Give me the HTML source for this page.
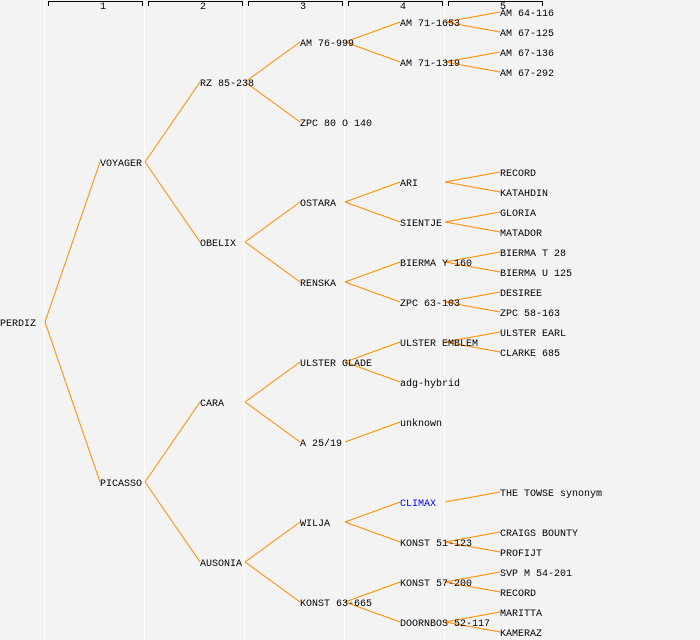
<!DOCTYPE html>
<html><head><meta charset="utf-8"><style>
html,body{margin:0;padding:0;background:#f3f3f3;}
svg{display:block}
text{font-family:"Liberation Mono","DejaVu Sans Mono",monospace;font-size:10px;fill:#000}
</style></head><body>
<svg width="700" height="640" viewBox="0 0 700 640" xmlns="http://www.w3.org/2000/svg">
<rect width="700" height="640" fill="#f3f3f3"/>
<g stroke="#fff" stroke-width="1" shape-rendering="crispEdges">
<line x1="44.5" y1="0" x2="44.5" y2="640"/>
<line x1="144.5" y1="0" x2="144.5" y2="640"/>
<line x1="244.5" y1="0" x2="244.5" y2="640"/>
<line x1="344.5" y1="0" x2="344.5" y2="640"/>
<line x1="444.5" y1="0" x2="444.5" y2="640"/>
</g>
<g stroke="#000" stroke-width="1" fill="none" shape-rendering="crispEdges">
<path d="M48.5 6V1.5H142.5V6"/>
<path d="M148.5 6V1.5H242.5V6"/>
<path d="M248.5 6V1.5H342.5V6"/>
<path d="M348.5 6V1.5H442.5V6"/>
<path d="M448.5 6V1.5H542.5V6"/>
</g>
<g style="font-size:8px">
<text x="100" y="9">1</text><text x="200" y="9">2</text><text x="300" y="9">3</text><text x="400" y="9">4</text><text x="500" y="9">5</text>
</g>
<g stroke="#ff8c00" stroke-width="1">
<line x1="45" y1="322" x2="100" y2="162"/><line x1="45" y1="322" x2="100" y2="482"/>
<line x1="145" y1="162" x2="200" y2="82"/><line x1="145" y1="162" x2="200" y2="242"/>
<line x1="145" y1="482" x2="200" y2="402"/><line x1="145" y1="482" x2="200" y2="562"/>
<line x1="245" y1="82" x2="300" y2="42"/><line x1="245" y1="82" x2="300" y2="122"/>
<line x1="245" y1="242" x2="300" y2="202"/><line x1="245" y1="242" x2="300" y2="282"/>
<line x1="245" y1="402" x2="300" y2="362"/><line x1="245" y1="402" x2="300" y2="442"/>
<line x1="245" y1="562" x2="300" y2="522"/><line x1="245" y1="562" x2="300" y2="602"/>
<line x1="345" y1="42" x2="400" y2="22"/><line x1="345" y1="42" x2="400" y2="62"/>
<line x1="345" y1="202" x2="400" y2="182"/><line x1="345" y1="202" x2="400" y2="222"/>
<line x1="345" y1="282" x2="400" y2="262"/><line x1="345" y1="282" x2="400" y2="302"/>
<line x1="345" y1="362" x2="400" y2="342"/><line x1="345" y1="362" x2="400" y2="382"/>
<line x1="345" y1="442" x2="400" y2="422"/>
<line x1="345" y1="522" x2="400" y2="502"/><line x1="345" y1="522" x2="400" y2="542"/>
<line x1="345" y1="602" x2="400" y2="582"/><line x1="345" y1="602" x2="400" y2="622"/>
<line x1="445" y1="22" x2="500" y2="12"/><line x1="445" y1="22" x2="500" y2="32"/>
<line x1="445" y1="62" x2="500" y2="52"/><line x1="445" y1="62" x2="500" y2="72"/>
<line x1="445" y1="182" x2="500" y2="172"/><line x1="445" y1="182" x2="500" y2="192"/>
<line x1="445" y1="222" x2="500" y2="212"/><line x1="445" y1="222" x2="500" y2="232"/>
<line x1="445" y1="262" x2="500" y2="252"/><line x1="445" y1="262" x2="500" y2="272"/>
<line x1="445" y1="302" x2="500" y2="292"/><line x1="445" y1="302" x2="500" y2="312"/>
<line x1="445" y1="342" x2="500" y2="332"/><line x1="445" y1="342" x2="500" y2="352"/>
<line x1="445" y1="502" x2="500" y2="492"/>
<line x1="445" y1="542" x2="500" y2="532"/><line x1="445" y1="542" x2="500" y2="552"/>
<line x1="445" y1="582" x2="500" y2="572"/><line x1="445" y1="582" x2="500" y2="592"/>
<line x1="445" y1="622" x2="500" y2="612"/><line x1="445" y1="622" x2="500" y2="632"/>
</g>
<g>
<text x="0" y="326">PERDIZ</text>
<text x="100" y="166">VOYAGER</text><text x="100" y="486">PICASSO</text>
<text x="200" y="86">RZ 85-238</text><text x="200" y="246">OBELIX</text><text x="200" y="406">CARA</text><text x="200" y="566">AUSONIA</text>
<text x="300" y="46">AM 76-999</text><text x="300" y="126">ZPC 80 O 140</text><text x="300" y="206">OSTARA</text><text x="300" y="286">RENSKA</text>
<text x="300" y="366">ULSTER GLADE</text><text x="300" y="446">A 25/19</text><text x="300" y="526">WILJA</text><text x="300" y="606">KONST 63-665</text>
<text x="400" y="26">AM 71-1653</text><text x="400" y="66">AM 71-1319</text><text x="400" y="186">ARI</text><text x="400" y="226">SIENTJE</text>
<text x="400" y="266">BIERMA Y 160</text><text x="400" y="306">ZPC 63-103</text><text x="400" y="346">ULSTER EMBLEM</text><text x="400" y="386">adg-hybrid</text>
<text x="400" y="426">unknown</text><text x="400" y="506" style="fill:#0000ff">CLIMAX</text><text x="400" y="546">KONST 51-123</text>
<text x="400" y="586">KONST 57-200</text><text x="400" y="626">DOORNBOS 52-117</text>
<text x="500" y="16">AM 64-116</text><text x="500" y="36">AM 67-125</text><text x="500" y="56">AM 67-136</text><text x="500" y="76">AM 67-292</text>
<text x="500" y="176">RECORD</text><text x="500" y="196">KATAHDIN</text><text x="500" y="216">GLORIA</text><text x="500" y="236">MATADOR</text>
<text x="500" y="256">BIERMA T 28</text><text x="500" y="276">BIERMA U 125</text><text x="500" y="296">DESIREE</text><text x="500" y="316">ZPC 58-163</text>
<text x="500" y="336">ULSTER EARL</text><text x="500" y="356">CLARKE 685</text><text x="500" y="496">THE TOWSE synonym</text>
<text x="500" y="536">CRAIGS BOUNTY</text><text x="500" y="556">PROFIJT</text><text x="500" y="576">SVP M 54-201</text><text x="500" y="596">RECORD</text>
<text x="500" y="616">MARITTA</text><text x="500" y="636">KAMERAZ</text>
</g>
</svg>
</body></html>
